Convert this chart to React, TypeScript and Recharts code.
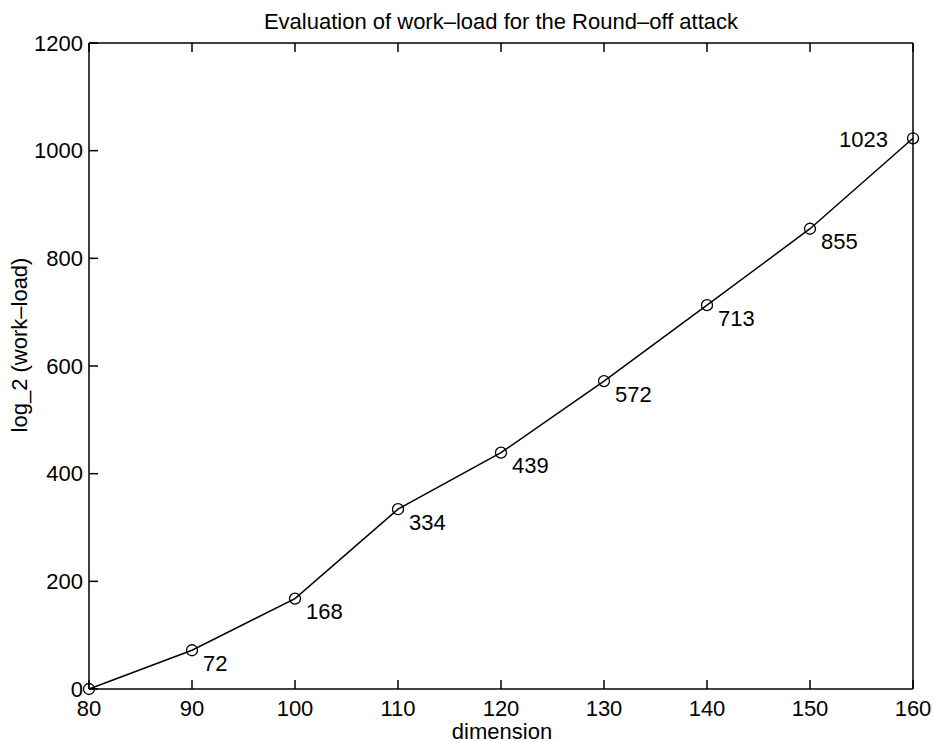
import React from "react";
import {
  LineChart,
  Line,
  XAxis,
  YAxis,
  LabelList,
} from "recharts";

const dimensions = [80, 90, 100, 110, 120, 130, 140, 150, 160];
const workLoad = [0, 72, 168, 334, 439, 572, 713, 855, 1023];
const xTicks = [80, 90, 100, 110, 120, 130, 140, 150, 160];
const yTicks = [0, 200, 400, 600, 800, 1000, 1200];

const data = dimensions.map((d, i) => ({ dimension: d, load: workLoad[i] }));

const FONT = "'Liberation Sans', Arial, Helvetica, sans-serif";
const FS = 22;
const TICK = 9;

const BottomTick = (props: any) => {
  const { x, y, payload } = props;
  return (
    <g>
      <line x1={x} y1={y} x2={x} y2={y - TICK} stroke="#000" strokeWidth={1.5} />
      <text x={x} y={y + 19} textAnchor="middle" dominantBaseline="central" fontFamily={FONT} fontSize={FS} fill="#000">
        {payload.value}
      </text>
    </g>
  );
};

const TopTick = (props: any) => {
  const { x, y } = props;
  return <line x1={x} y1={y} x2={x} y2={y + TICK} stroke="#000" strokeWidth={1.5} />;
};

const LeftTick = (props: any) => {
  const { x, y, payload } = props;
  return (
    <g>
      <line x1={x} y1={y} x2={x + TICK} y2={y} stroke="#000" strokeWidth={1.5} />
      <text x={x - 6} y={y} textAnchor="end" dominantBaseline="central" fontFamily={FONT} fontSize={FS} fill="#000">
        {payload.value}
      </text>
    </g>
  );
};

const RightTick = (props: any) => {
  const { x, y } = props;
  return <line x1={x} y1={y} x2={x - TICK} y2={y} stroke="#000" strokeWidth={1.5} />;
};

const PointLabel = (props: any) => {
  const { x, y, value, index } = props;
  if (index === 0) return null;
  const last = index === workLoad.length - 1;
  return (
    <text
      x={last ? x - 25 : x + 11}
      y={last ? y + 1 : y + 13}
      textAnchor={last ? "end" : "start"}
      dominantBaseline="central"
      fontFamily={FONT}
      fontSize={FS}
      fill="#000"
    >
      {value}
    </text>
  );
};

export default function App() {
  return (
    <div style={{ position: "absolute", left: 0, top: 0, background: "#fff" }}>
      <LineChart
        width={934}
        height={742}
        data={data}
        margin={{ top: 33, right: 11, bottom: 23, left: 49 }}
      >
        <XAxis
          dataKey="dimension"
          type="number"
          domain={[80, 160]}
          ticks={xTicks}
          interval={0}
          height={30}
          tickSize={0}
          tickMargin={0}
          tickLine={false}
          tick={<BottomTick />}
          axisLine={{ stroke: "#000", strokeWidth: 1.5 }}
          label={{
            content: (p: any) => {
              const vb = p.viewBox;
              return (
                <text x={vb.x + vb.width / 2 + 1} y={731} textAnchor="middle" dominantBaseline="central" fontFamily={FONT} fontSize={FS} fill="#000">
                  dimension
                </text>
              );
            },
          }}
        />
        <XAxis
          xAxisId="top"
          orientation="top"
          dataKey="dimension"
          type="number"
          domain={[80, 160]}
          ticks={xTicks}
          interval={0}
          height={10}
          tickSize={0}
          tickMargin={0}
          tickLine={false}
          tick={<TopTick />}
          axisLine={{ stroke: "#000", strokeWidth: 1.5 }}
          label={{
            content: (p: any) => {
              const vb = p.viewBox;
              return (
                <text x={vb.x + vb.width / 2} y={21} textAnchor="middle" dominantBaseline="central" fontFamily={FONT} fontSize={FS} fill="#000">
                  Evaluation of work–load for the Round–off attack
                </text>
              );
            },
          }}
        />
        <YAxis
          type="number"
          domain={[0, 1200]}
          ticks={yTicks}
          interval={0}
          width={40}
          tickSize={0}
          tickMargin={0}
          tickLine={false}
          tick={<LeftTick />}
          axisLine={{ stroke: "#000", strokeWidth: 1.5 }}
          label={{
            content: () => (
              <text
                x={19}
                y={345}
                textAnchor="middle"
                dominantBaseline="central"
                transform="rotate(-90 19 345)"
                fontFamily={FONT}
                fontSize={FS}
                fill="#000"
              >
                log_2 (work–load)
              </text>
            ),
          }}
        />
        <YAxis
          yAxisId="right"
          orientation="right"
          type="number"
          domain={[0, 1200]}
          ticks={yTicks}
          interval={0}
          width={10}
          tickSize={0}
          tickMargin={0}
          tickLine={false}
          tick={<RightTick />}
          axisLine={{ stroke: "#000", strokeWidth: 1.5 }}
        />
        <Line
          type="linear"
          dataKey="load"
          stroke="#000"
          strokeWidth={1.5}
          dot={{ r: 5.5, stroke: "#000", strokeWidth: 1.3, fill: "none" }}
          activeDot={false}
          isAnimationActive={false}
        >
          <LabelList dataKey="load" content={<PointLabel />} />
        </Line>
      </LineChart>
    </div>
  );
}
